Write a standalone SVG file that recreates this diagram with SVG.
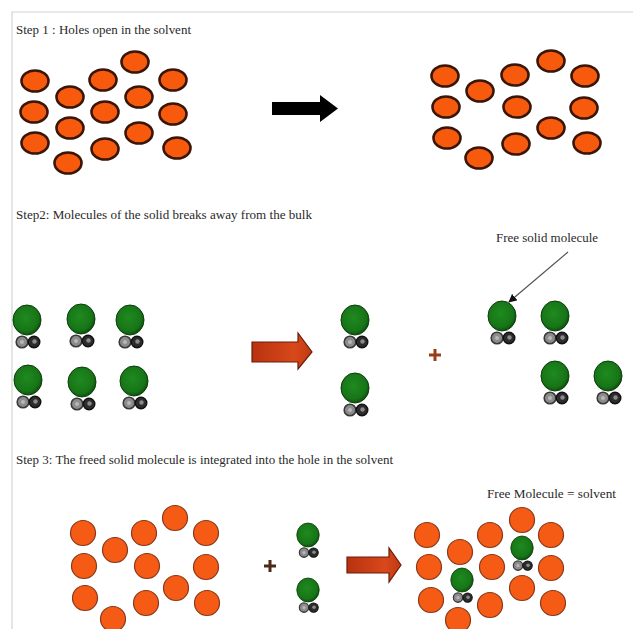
<svg xmlns="http://www.w3.org/2000/svg" xmlns:xlink="http://www.w3.org/1999/xlink" width="633" height="629" viewBox="0 0 633 629">
  <style>
    .lbl { font-family: "Liberation Serif", "Times New Roman", serif; font-size: 12px; fill: #2a2a2a; }
    .sol { fill: #f75a0c; stroke: #3a1608; stroke-width: 2.6; }
    .sol2 { fill: #f65b16; stroke: #8a3818; stroke-width: 1.2; }
    .plus { stroke-width: 3; stroke-linecap: butt; }
  </style>
  <defs>
    <radialGradient id="green" cx="0.45" cy="0.42" r="0.6">
      <stop offset="0" stop-color="#1f8a1f"/>
      <stop offset="0.75" stop-color="#177517"/>
      <stop offset="1" stop-color="#0c4a0c"/>
    </radialGradient>
    <linearGradient id="redArrow" x1="0" y1="0" x2="1" y2="0">
      <stop offset="0" stop-color="#b83210"/>
      <stop offset="0.7" stop-color="#d8481a"/>
      <stop offset="1" stop-color="#c23a12"/>
    </linearGradient>
    <!-- solid molecule: large green atom with two small grey atoms below -->
    <g id="mol">
      <ellipse cx="0" cy="0" rx="14" ry="15" fill="url(#green)" stroke="#0d3d0d" stroke-width="1"/>
      <circle cx="-5" cy="22" r="5.8" fill="#8c8c8c" stroke="#3a3a3a" stroke-width="1.6"/>
      <circle cx="-5" cy="22" r="2" fill="#b8b8b8"/>
      <circle cx="7" cy="22" r="5.8" fill="#2c2c2c" stroke="#111" stroke-width="1.4"/>
      <circle cx="7.5" cy="21.5" r="2.2" fill="#8a8a8a"/>
    </g>
    <marker id="head" viewBox="0 0 10 10" refX="9" refY="5" markerWidth="7" markerHeight="7" orient="auto">
      <path d="M0,0 L10,5 L0,10 Z" fill="#111"/>
    </marker>
  </defs>

  <rect width="633" height="629" fill="#fff"/>
  <!-- page frame -->
  <path d="M12,629 V12 H633" fill="none" stroke="#d4d4d4" stroke-width="1.2"/>

  <!-- headings and labels -->
  <text class="lbl" x="16" y="34" textLength="175" lengthAdjust="spacingAndGlyphs">Step 1 : Holes open in the solvent</text>
  <text class="lbl" x="16" y="219" textLength="296" lengthAdjust="spacingAndGlyphs">Step2: Molecules of the solid breaks away from the bulk</text>
  <text class="lbl" x="16" y="464" textLength="377" lengthAdjust="spacingAndGlyphs">Step 3: The freed solid molecule is integrated into the hole in the solvent</text>
  <text class="lbl" x="496" y="242" textLength="102" lengthAdjust="spacingAndGlyphs">Free solid molecule</text>
  <text class="lbl" x="487" y="498" textLength="129" lengthAdjust="spacingAndGlyphs">Free Molecule = solvent</text>

  <!-- step 1: packed solvent -->
  <g id="solvent-packed">
    <ellipse class="sol" cx="35" cy="81" rx="13.5" ry="10.5"/>
    <ellipse class="sol" cx="70" cy="97" rx="13.5" ry="10.5"/>
    <ellipse class="sol" cx="103" cy="80" rx="13.5" ry="10.5"/>
    <ellipse class="sol" cx="135" cy="62" rx="13.5" ry="10.5"/>
    <ellipse class="sol" cx="173" cy="80" rx="13.5" ry="10.5"/>
    <ellipse class="sol" cx="34" cy="112" rx="13.5" ry="10.5"/>
    <ellipse class="sol" cx="105" cy="112" rx="13.5" ry="10.5"/>
    <ellipse class="sol" cx="139" cy="97" rx="13.5" ry="10.5"/>
    <ellipse class="sol" cx="173" cy="114" rx="13.5" ry="10.5"/>
    <ellipse class="sol" cx="70" cy="128" rx="13.5" ry="10.5"/>
    <ellipse class="sol" cx="35" cy="143" rx="13.5" ry="10.5"/>
    <ellipse class="sol" cx="139" cy="133" rx="13.5" ry="10.5"/>
    <ellipse class="sol" cx="105" cy="149" rx="13.5" ry="10.5"/>
    <ellipse class="sol" cx="177" cy="148" rx="13.5" ry="10.5"/>
    <ellipse class="sol" cx="68" cy="163" rx="13.5" ry="10.5"/>
  </g>

  <!-- step 1: solvent with holes -->
  <g id="solvent-holes">
    <ellipse class="sol" cx="445" cy="76" rx="13.5" ry="10.5"/>
    <ellipse class="sol" cx="480" cy="91" rx="13.5" ry="10.5"/>
    <ellipse class="sol" cx="515" cy="75" rx="13.5" ry="10.5"/>
    <ellipse class="sol" cx="551" cy="61" rx="13.5" ry="10.5"/>
    <ellipse class="sol" cx="585" cy="76" rx="13.5" ry="10.5"/>
    <ellipse class="sol" cx="446" cy="107" rx="13.5" ry="10.5"/>
    <ellipse class="sol" cx="517" cy="107" rx="13.5" ry="10.5"/>
    <ellipse class="sol" cx="584" cy="108" rx="13.5" ry="10.5"/>
    <ellipse class="sol" cx="551" cy="128" rx="13.5" ry="10.5"/>
    <ellipse class="sol" cx="447" cy="138" rx="13.5" ry="10.5"/>
    <ellipse class="sol" cx="516" cy="144" rx="13.5" ry="10.5"/>
    <ellipse class="sol" cx="587" cy="143" rx="13.5" ry="10.5"/>
    <ellipse class="sol" cx="479" cy="158" rx="13.5" ry="10.5"/>
  </g>

  <!-- step 2: bulk solid -->
  <g id="solid-bulk">
    <use xlink:href="#mol" x="27" y="320"/>
    <use xlink:href="#mol" x="81" y="319"/>
    <use xlink:href="#mol" x="130" y="320"/>
    <use xlink:href="#mol" x="28" y="380"/>
    <use xlink:href="#mol" x="82" y="382"/>
    <use xlink:href="#mol" x="134" y="381"/>
  </g>

  <!-- step 2: products -->
  <g id="solid-remaining">
    <use xlink:href="#mol" x="355" y="320"/>
    <use xlink:href="#mol" x="355" y="388"/>
  </g>
  <g id="solid-free">
    <use xlink:href="#mol" x="502" y="316"/>
    <use xlink:href="#mol" x="555" y="316"/>
    <use xlink:href="#mol" x="555" y="376"/>
    <use xlink:href="#mol" x="608" y="376"/>
  </g>

  <!-- step 3: solvent with holes -->
  <g id="solvent-open">
    <circle class="sol2" cx="83" cy="533" r="12.5"/>
    <circle class="sol2" cx="115" cy="550" r="12.5"/>
    <circle class="sol2" cx="144" cy="533" r="12.5"/>
    <circle class="sol2" cx="175" cy="518" r="12.5"/>
    <circle class="sol2" cx="206" cy="533" r="12.5"/>
    <circle class="sol2" cx="84" cy="566" r="12.5"/>
    <circle class="sol2" cx="147" cy="566" r="12.5"/>
    <circle class="sol2" cx="206" cy="567" r="12.5"/>
    <circle class="sol2" cx="176" cy="588" r="12.5"/>
    <circle class="sol2" cx="85" cy="598" r="12.5"/>
    <circle class="sol2" cx="146" cy="603" r="12.5"/>
    <circle class="sol2" cx="207" cy="603" r="12.5"/>
    <circle class="sol2" cx="113" cy="619" r="12.5"/>
  </g>

  <!-- step 3: freed molecules -->
  <g id="freed-molecules">
    <use xlink:href="#mol" transform="translate(308,535) scale(0.8)"/>
    <use xlink:href="#mol" transform="translate(308,590) scale(0.8)"/>
  </g>

  <!-- step 3: solution -->
  <g id="solution">
    <circle class="sol2" cx="427" cy="535" r="12.5"/>
    <circle class="sol2" cx="460" cy="552" r="12.5"/>
    <circle class="sol2" cx="490" cy="535" r="12.5"/>
    <circle class="sol2" cx="522" cy="520" r="12.5"/>
    <circle class="sol2" cx="551" cy="535" r="12.5"/>
    <circle class="sol2" cx="429" cy="567" r="12.5"/>
    <circle class="sol2" cx="492" cy="567" r="12.5"/>
    <circle class="sol2" cx="551" cy="568" r="12.5"/>
    <circle class="sol2" cx="522" cy="588" r="12.5"/>
    <circle class="sol2" cx="431" cy="600" r="12.5"/>
    <circle class="sol2" cx="490" cy="605" r="12.5"/>
    <circle class="sol2" cx="553" cy="603" r="12.5"/>
    <circle class="sol2" cx="458" cy="620" r="12.5"/>
    <use xlink:href="#mol" transform="translate(462,580) scale(0.8)"/>
    <use xlink:href="#mol" transform="translate(522,548) scale(0.8)"/>
  </g>

  <!-- connectors: process arrows, plus signs, leader -->
  <g id="connectors">
    <polygon points="272,102 320,102 320,95 338,108.5 320,122 320,115 272,115" fill="#000"/>
    <polygon points="252,342 298,342 298,333 312,352 298,369 298,362 252,362" fill="url(#redArrow)" stroke="#6a1c08" stroke-width="1.2"/>
    <polygon points="347,557 389,557 389,548 401,565 389,582 389,573 347,573" fill="url(#redArrow)" stroke="#6a1c08" stroke-width="1.2"/>
    <path class="plus" d="M429,355 H441 M435,349 V361" stroke="#9a3c18"/>
    <path class="plus" d="M264,566 H276 M270,560 V572" stroke="#4a2a14"/>
    <line x1="568" y1="252" x2="509" y2="302" stroke="#555" stroke-width="1.2" marker-end="url(#head)"/>
  </g>
</svg>
